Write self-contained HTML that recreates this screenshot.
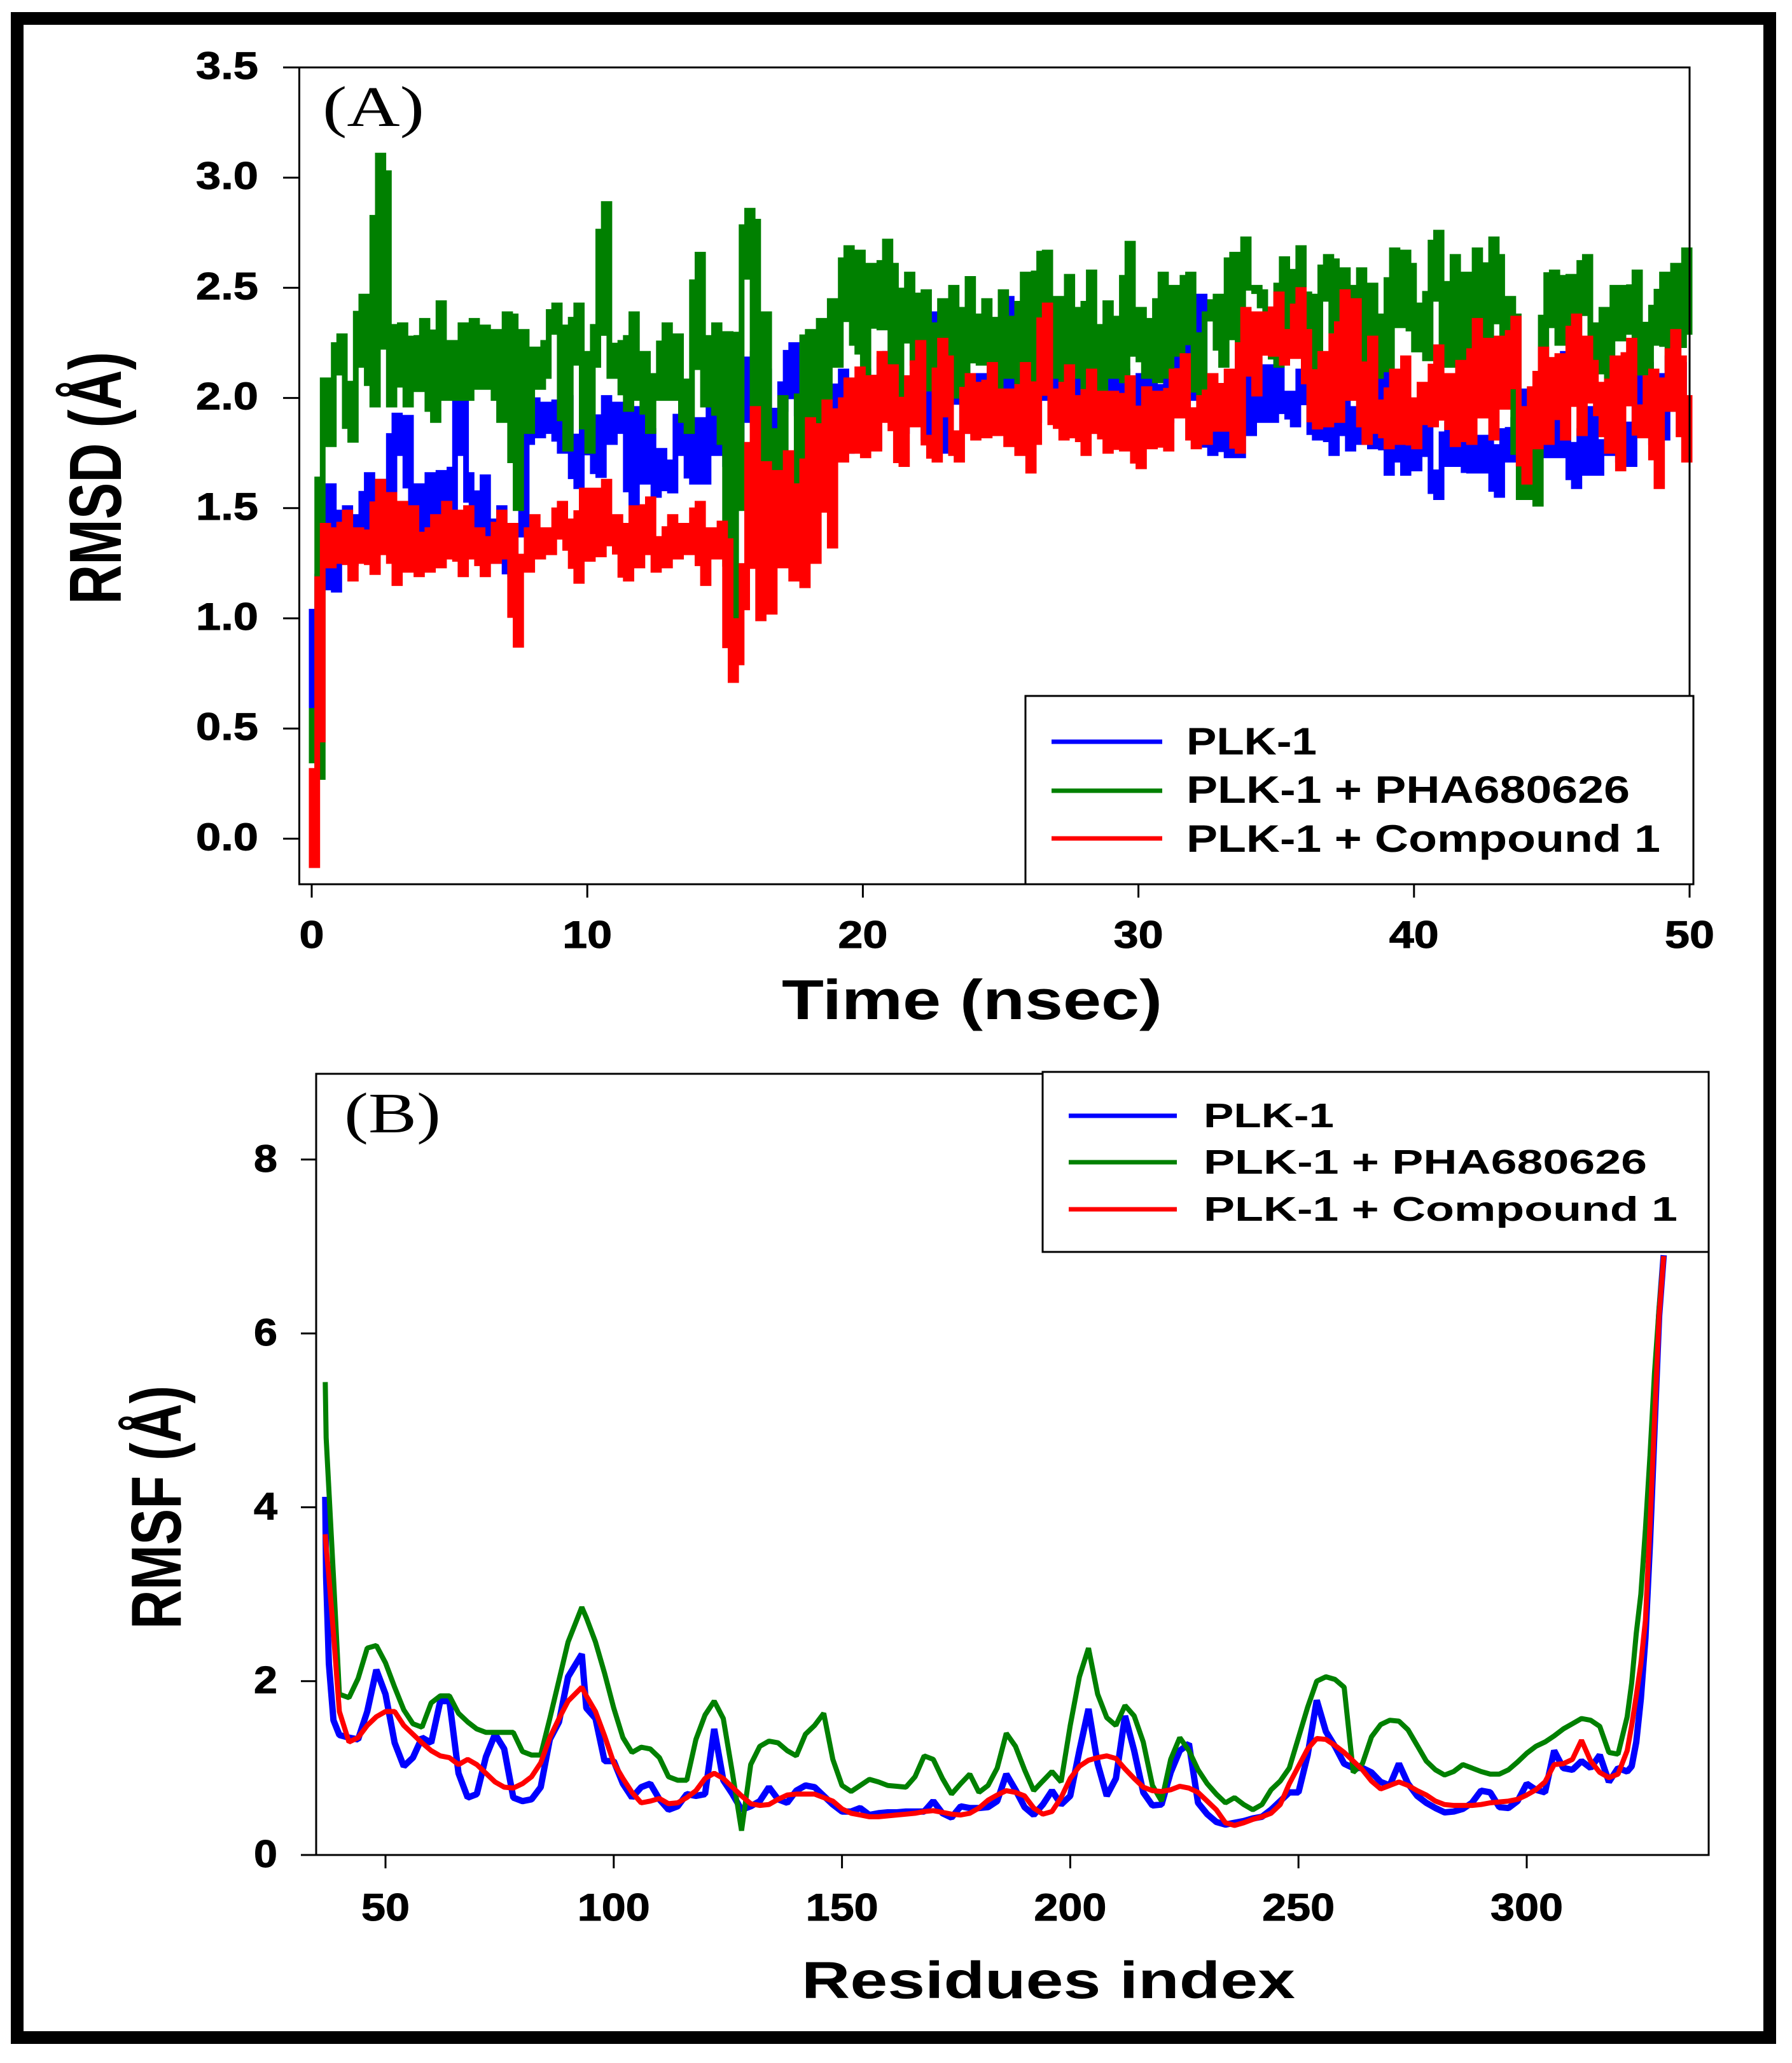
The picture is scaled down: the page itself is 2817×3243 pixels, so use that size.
<!DOCTYPE html>
<html lang="en">
<head>
<meta charset="utf-8">
<title>RMSD and RMSF of PLK-1 complexes</title>
<style>
html,body{margin:0;padding:0;background:#fff;}
svg{display:block;}
text{font-family:"Liberation Sans",Arial,sans-serif;fill:#000;}
.tick{font-weight:bold;stroke:#000;stroke-width:1;}
.leg{font-weight:bold;}
.series{fill:none;stroke-linejoin:bevel;stroke-linecap:butt;}
.band{fill:none;stroke-linecap:square;}
</style>
</head>
<body>
<svg id="chart" xmlns="http://www.w3.org/2000/svg" width="2817" height="3243" viewBox="0 0 2817 3243">
  <rect x="0" y="0" width="2817" height="3243" fill="#fff"/>
  <rect x="27" y="29" width="2755" height="3174" fill="none" stroke="#000" stroke-width="20"/>

  <g id="panelA">
    <g id="ticksA"></g>
    <path id="lineA0" class="band" stroke="#0000ff" stroke-width="9"/>
    <path id="lineA1" class="band" stroke="#008000" stroke-width="9"/>
    <path id="lineA2" class="band" stroke="#ff0000" stroke-width="9"/>
    <path d="M445 106H2656V1390H470.5V106" fill="none" stroke="#000" stroke-width="3"/>
    <text x="507" y="198" font-size="90" textLength="160" lengthAdjust="spacingAndGlyphs" style="font-family:'Liberation Serif',serif">(A)</text>
    <text transform="translate(190 950) rotate(-90)" font-size="116" font-weight="bold" textLength="397" lengthAdjust="spacingAndGlyphs">RMSD (Å)</text>
    <text x="1229" y="1602" font-size="88" font-weight="bold" textLength="598" lengthAdjust="spacingAndGlyphs">Time (nsec)</text>
    <g>
      <rect x="1612" y="1094" width="1050" height="296" fill="#fff" stroke="#000" stroke-width="3"/>
      <line x1="1653" x2="1827" y1="1166" y2="1166" stroke="#0000ff" stroke-width="7"/>
      <text class="leg" x="1865" y="1186" font-size="60" textLength="205" lengthAdjust="spacingAndGlyphs">PLK-1</text>
      <line x1="1653" x2="1827" y1="1243" y2="1243" stroke="#008000" stroke-width="7"/>
      <text class="leg" x="1865" y="1262" font-size="60" textLength="697" lengthAdjust="spacingAndGlyphs">PLK-1 + PHA680626</text>
      <line x1="1653" x2="1827" y1="1318" y2="1318" stroke="#ff0000" stroke-width="7"/>
      <text class="leg" x="1865" y="1339" font-size="60" textLength="745" lengthAdjust="spacingAndGlyphs">PLK-1 + Compound 1</text>
    </g>
  </g>

  <g id="panelB">
    <g id="ticksB"></g>
    <path id="lineB0" class="series" stroke="#0000ff" stroke-width="10"/>
    <path id="lineB1" class="series" stroke="#008000" stroke-width="8"/>
    <path id="lineB2" class="series" stroke="#ff0000" stroke-width="8"/>
    <path d="M473 2916H2686V1688H497V2916" fill="none" stroke="#000" stroke-width="3"/>
    <text x="541" y="1780" font-size="90" textLength="152" lengthAdjust="spacingAndGlyphs" style="font-family:'Liberation Serif',serif">(B)</text>
    <text transform="translate(284 2561) rotate(-90)" font-size="111" font-weight="bold" textLength="383" lengthAdjust="spacingAndGlyphs">RMSF (Å)</text>
    <text x="1260" y="3141" font-size="82" font-weight="bold" textLength="776" lengthAdjust="spacingAndGlyphs">Residues index</text>
    <g>
      <rect x="1639" y="1685" width="1047" height="283" fill="#fff" stroke="#000" stroke-width="3"/>
      <line x1="1680" x2="1850" y1="1754" y2="1754" stroke="#0000ff" stroke-width="7"/>
      <text class="leg" x="1892" y="1772" font-size="54" textLength="205" lengthAdjust="spacingAndGlyphs">PLK-1</text>
      <line x1="1680" x2="1850" y1="1827" y2="1827" stroke="#008000" stroke-width="7"/>
      <text class="leg" x="1892" y="1845" font-size="54" textLength="697" lengthAdjust="spacingAndGlyphs">PLK-1 + PHA680626</text>
      <line x1="1680" x2="1850" y1="1901" y2="1901" stroke="#ff0000" stroke-width="7"/>
      <text class="leg" x="1892" y="1919" font-size="54" textLength="745" lengthAdjust="spacingAndGlyphs">PLK-1 + Compound 1</text>
    </g>
  </g>
</svg>

<script>
// Panel A data: RMSD in angstrom, one row per nanosecond, sampled every 0.2 ns
const sampleStepNs = 0.2;
const rmsdPlk = [
0.55,1.19,1.14,1.60,1.13,
1.42,1.50,1.25,1.46,1.31,
1.65,1.34,1.62,1.33,1.55,
1.92,1.75,1.91,1.50,1.60,
1.25,1.65,1.40,1.66,1.50,
1.45,1.75,2.22,1.65,1.50,
1.35,1.64,1.32,1.26,1.50,
1.25,1.20,1.38,1.40,1.80,
1.99,1.83,1.97,1.85,1.98,
1.76,2.00,1.78,1.60,1.90,
1.85,1.72,1.65,2.00,1.80,
1.97,1.85,1.96,1.46,1.95,
1.62,1.85,1.56,1.76,1.62,
1.58,1.75,1.97,1.73,1.62,
1.90,1.62,1.95,1.75,2.00,
1.70,1.92,1.72,1.90,2.10,
2.20,1.85,2.12,1.85,1.92,
1.95,2.10,2.24,1.93,2.22,
1.98,1.86,2.10,1.96,2.05,
1.85,2.12,1.76,1.96,1.92,
2.12,1.90,1.78,2.10,2.20,
1.90,2.20,1.85,2.02,1.96,
2.12,1.82,2.38,1.86,1.76,
1.95,2.10,2.38,1.85,2.10,
1.85,2.10,1.90,2.12,1.98,
2.30,2.45,1.90,2.25,1.85,
2.20,1.90,2.10,2.00,2.25,
1.90,2.20,1.92,2.05,2.15,
1.95,2.10,1.85,2.10,1.90,
2.20,1.86,2.12,1.90,2.02,
2.10,1.88,2.16,1.82,2.05,
1.90,2.20,1.95,2.30,2.00,
2.20,2.46,1.90,1.75,2.05,
1.85,1.74,2.10,1.74,2.30,
1.84,2.00,1.90,2.14,1.90,
2.17,1.94,2.02,1.88,2.00,
2.16,1.92,1.82,2.17,2.00,
1.75,1.95,2.05,1.77,1.95,
1.80,1.92,1.78,1.86,2.12,
1.66,1.75,1.90,1.66,1.80,
1.68,1.85,2.00,1.66,1.55,
1.70,1.88,1.70,1.85,1.68,
1.67,1.82,1.67,1.82,1.67,
1.56,1.85,1.72,1.90,1.75,
2.03,1.85,1.75,1.88,1.74,
1.90,1.74,2.20,1.76,1.60,
1.85,1.66,1.95,1.66,1.80,
1.75,1.90,1.72,1.88,1.70,
1.90,2.05,2.15,1.80,2.10,
1.82,2.18,1.95,2.15,1.90,
1.88];
const rmsdPha = [
0.58,0.28,2.08,1.79,2.12,
2.28,2.06,1.81,2.15,2.46,
2.36,1.97,3.10,3.02,1.97,
2.30,2.33,1.97,2.27,2.04,
2.35,2.10,1.90,2.43,2.00,
2.25,2.00,2.33,2.00,2.35,
2.05,2.32,2.05,2.30,1.90,
2.38,2.37,1.50,2.30,1.85,
2.22,2.05,2.10,2.30,2.42,
2.32,1.77,2.16,2.42,2.20,
1.76,2.15,2.38,2.88,2.10,
2.20,2.25,1.95,2.38,2.00,
2.20,1.85,2.10,2.00,2.33,
2.00,2.28,2.05,1.85,2.15,
2.65,1.97,2.10,2.33,1.80,
2.29,0.90,1.50,2.55,2.85,
2.80,1.70,2.38,1.70,1.40,
2.00,1.55,1.72,1.43,2.20,
2.30,1.64,2.35,1.88,2.44,
2.15,2.46,2.68,2.25,2.66,
2.06,2.60,2.35,2.32,2.71,
2.60,2.00,2.27,2.56,2.16,
2.42,2.48,2.17,2.00,2.44,
2.15,2.50,2.10,1.98,2.54,
2.20,2.16,2.44,2.15,1.98,
2.48,2.10,2.36,2.03,2.56,
2.08,2.34,2.64,2.66,2.10,
2.45,2.08,2.55,2.10,2.40,
2.00,2.57,2.20,2.00,2.43,
2.10,2.36,2.08,2.70,2.20,
2.40,2.10,2.35,2.08,2.56,
2.10,2.50,2.20,2.50,2.56,
2.15,2.00,2.38,2.36,2.46,
2.15,2.55,2.65,2.15,2.72,
2.50,2.50,2.48,2.40,2.30,
2.15,2.63,2.40,2.25,2.68,
2.47,2.46,2.12,2.45,2.64,
2.62,2.20,2.58,2.50,2.15,
2.58,2.16,2.51,2.10,2.37,
2.13,2.67,2.33,2.66,2.60,
2.22,2.42,2.18,2.57,2.75,
2.35,2.15,2.64,2.12,2.56,
2.12,2.67,2.45,2.25,2.72,
2.64,2.25,2.45,2.37,1.55,
1.55,1.75,1.52,1.90,2.52,
2.57,2.25,2.53,2.55,2.25,
2.53,2.64,2.30,2.12,2.40,
2.10,2.50,2.27,2.50,2.30,
2.57,2.16,2.10,2.41,2.25,
2.56,2.14,2.60,2.24,2.67,
2.30];
const rmsdCompound = [
-0.12,0.45,1.42,1.24,1.40,
1.26,1.48,1.18,1.40,1.26,
1.39,1.21,1.62,1.30,1.56,
1.16,1.52,1.22,1.50,1.20,
1.38,1.22,1.46,1.24,1.52,
1.28,1.48,1.20,1.50,1.28,
1.40,1.20,1.36,1.26,1.48,
1.28,1.42,0.88,1.28,1.22,
1.46,1.28,1.40,1.30,1.40,
1.52,1.32,1.44,1.17,1.58,
1.27,1.58,1.29,1.62,1.34,
1.46,1.25,1.18,1.50,1.24,
1.40,1.54,1.22,1.36,1.24,
1.46,1.28,1.42,1.30,1.40,
1.52,1.16,1.40,1.28,1.43,
1.35,0.72,0.80,1.05,1.30,
1.95,1.00,1.70,1.03,1.66,
1.24,1.75,1.18,1.60,1.15,
1.90,1.26,1.55,1.98,1.33,
1.94,1.72,2.08,1.76,2.13,
1.74,2.09,1.77,2.20,1.90,
2.14,1.77,1.70,2.09,1.88,
2.25,1.82,1.79,1.72,2.26,
2.18,1.84,1.72,1.85,2.10,
1.82,2.06,1.83,2.15,1.84,
2.03,1.79,2.03,1.75,2.15,
1.67,1.80,2.15,2.42,1.89,
2.03,1.82,2.14,1.83,2.00,
1.75,2.12,1.85,2.02,1.76,
2.02,1.80,1.77,2.09,1.79,
1.69,2.04,1.78,2.02,1.84,
1.77,2.12,1.92,2.19,1.94,
1.78,2.00,1.80,2.10,1.86,
1.86,2.12,1.85,1.76,2.40,
2.38,2.02,2.38,2.22,2.20,
2.47,2.16,2.30,2.19,2.49,
2.30,2.00,1.87,2.20,1.88,
2.28,1.90,2.48,2.00,2.44,
2.12,1.80,2.27,1.85,1.98,
1.78,2.12,1.80,2.18,1.85,
1.78,2.06,1.92,1.88,2.23,
1.91,2.10,1.79,2.16,1.85,
1.80,2.35,1.92,2.26,1.82,
2.27,1.96,2.10,2.36,1.95,
1.62,2.04,1.78,2.22,1.80,
2.12,2.19,1.82,2.15,2.37,
1.84,2.27,2.16,1.93,2.06,
1.76,2.18,1.68,2.00,2.26,
1.88,1.83,2.00,2.12,1.60,
2.08,1.95,2.30,2.18,1.72,
2.00];
const timeTicks = [0,10,20,30,40,50];
const rmsdTicks = ["0.0","0.5","1.0","1.5","2.0","2.5","3.0","3.5"];

// Panel B data: RMSF in angstrom per residue
const residueIndex = [
36.8,37,37.6,38.6,39.9,
42,44,46,48,50,52,54,56,58,60,
62,64,66,68,70,72,74,76,78,80,
82,84,86,88,90,93,94,96,98,100,
102,104,106,108,110,112,114,116,118,120,
122,124,126,128,130,132,134,136,138,140,
142,
144,146,148,150,152,154,156,158,160,162,
164,166,168,170,172,174,176,178,180,182,
184,186,188,190,192,194,196,198,200,202,
204,206,208,210,212,214,216,218,220,222,
224,226,228,230,232,234,236,238,240,242,
244,246,248,250,252,254,256,258,260,262,
264,266,268,270,272,274,276,278,280,282,
284,286,288,290,292,294,296,298,300,302,
304,306,308,310,312,314,316,318,320,322,
323,324,325,326,327,328,329,330];
const rmsfPlk = [
4.12,3.20,2.20,1.55,1.38,
1.35,1.33,1.65,2.13,1.85,1.29,1.02,1.12,1.35,1.29,
1.77,1.77,.94,.66,.70,1.13,1.39,1.22,.66,.62,
.64,.78,1.33,1.53,2.05,2.31,1.69,1.57,1.08,1.08,
.82,.66,.78,.82,.64,.52,.56,.70,.68,.70,
1.45,.86,.70,.52,.56,.62,.78,.64,.60,.74,
.80,
.78,.68,.58,.50,.50,.54,.46,.48,.49,.49,
.50,.50,.50,.62,.48,.43,.56,.54,.54,.55,
.62,.93,.75,.55,.46,.58,.74,.58,.68,1.20,
1.68,1.05,.68,.88,1.60,1.20,.72,.57,.58,.95,
1.20,1.28,.60,.47,.38,.35,.37,.39,.42,.44,
.52,.62,.72,.72,1.15,1.78,1.42,1.25,1.05,1.00,
1.00,.95,.84,.80,1.05,.82,.68,.60,.54,.49,
.50,.53,.60,.74,.72,.55,.54,.62,.82,.75,
.72,1.20,1.00,.98,1.08,1.00,1.15,.84,1.00,.96,
1.02,1.30,1.80,2.50,3.60,4.90,6.20,6.90];
const rmsfPha = [
5.44,4.80,4.20,3.20,1.85,
1.81,2.03,2.38,2.41,2.21,1.93,1.67,1.51,1.47,1.75,
1.83,1.83,1.63,1.53,1.45,1.41,1.41,1.41,1.41,1.19,
1.15,1.15,1.57,2.01,2.45,2.85,2.73,2.45,2.09,1.69,
1.35,1.18,1.24,1.22,1.12,.90,.86,.86,1.33,1.61,
1.77,1.57,.94,.28,1.04,1.25,1.31,1.29,1.20,1.14,
1.39,
1.49,1.63,1.10,.80,.73,.80,.87,.84,.80,.79,
.78,.90,1.14,1.10,.88,.70,.82,.93,.72,.80,
1.00,1.40,1.25,.98,.74,.85,.96,.84,1.49,2.05,
2.38,1.85,1.58,1.49,1.72,1.60,1.30,.80,.62,1.10,
1.35,1.20,.98,.82,.70,.60,.66,.58,.52,.58,
.75,.85,1.00,1.35,1.70,2.00,2.05,2.02,1.93,.95,
1.05,1.36,1.50,1.55,1.54,1.44,1.26,1.08,.98,.92,
.96,1.04,1.00,.96,.93,.93,.98,1.07,1.17,1.25,
1.30,1.37,1.45,1.51,1.57,1.55,1.48,1.18,1.16,1.59,
1.98,2.55,3.00,3.75,4.60,5.55,6.29,6.89];
const rmsfCompound = [
3.69,3.55,3.20,2.55,1.65,
1.30,1.35,1.49,1.59,1.65,1.65,1.49,1.39,1.29,1.20,
1.14,1.12,1.04,1.10,1.04,.94,.84,.78,.77,.82,
.90,1.06,1.35,1.57,1.77,1.93,1.83,1.65,1.37,1.06,
.88,.72,.60,.62,.65,.59,.60,.66,.74,.88,
.94,.88,.78,.68,.59,.57,.58,.64,.69,.70,
.70,
.70,.66,.62,.53,.48,.46,.44,.44,.45,.46,
.47,.48,.50,.51,.49,.47,.46,.48,.54,.63,
.69,.74,.72,.68,.54,.47,.50,.66,.88,1.02,
1.09,1.12,1.14,1.11,.99,.88,.78,.74,.73,.75,
.79,.77,.72,.62,.52,.37,.34,.37,.41,.44,
.48,.58,.82,1.02,1.22,1.34,1.33,1.26,1.18,1.08,
.98,.85,.76,.80,.84,.80,.74,.69,.62,.58,
.57,.57,.57,.58,.60,.61,.62,.64,.69,.75,
.84,1.04,1.05,1.10,1.32,1.08,.95,.89,.93,1.20,
1.49,1.83,2.20,2.70,3.80,5.00,6.20,6.89];
const residueTicks = [50,100,150,200,250,300];
const rmsfTicks = ["0","2","4","6","8"];

// Axis functions
function xTime(t){ return 490 + 43.32 * t; }
function yRmsd(v){ return 106 + (3.5 - v) * 346.4; }
function xResidue(r){ return 606 + 7.176 * (r - 50); }
function yRmsf(v){ return 2916 - 136.65 * v; }

const SVGNS = "http://www.w3.org/2000/svg";

function linePath(xs, ys, fx, fy){
  let d = "";
  for (let i = 0; i < ys.length; i++) {
    d += (i ? "L" : "M") + fx(xs[i]).toFixed(1) + " " + fy(ys[i]).toFixed(1);
  }
  return d;
}

// Dense traces read as solid bands: each sample is a vertical column spanning
// from the previous value to this value, and most of the way toward the next.
function columnPath(xs, ys, fx, fy){
  let d = "";
  for (let i = 0; i < ys.length; i++) {
    const prev = i > 0 ? ys[i - 1] : ys[i];
    const next = i < ys.length - 1 ? ys[i] + 0.75 * (ys[i + 1] - ys[i]) : ys[i];
    const lo = Math.min(prev, ys[i], next);
    const hi = Math.max(prev, ys[i], next);
    d += "M" + fx(xs[i]).toFixed(1) + " " + fy(hi).toFixed(1) + "V" + fy(lo).toFixed(1);
  }
  return d;
}

function makeTick(parent, x1, y1, x2, y2){
  const el = document.createElementNS(SVGNS, "line");
  el.setAttribute("x1", x1);
  el.setAttribute("y1", y1);
  el.setAttribute("x2", x2);
  el.setAttribute("y2", y2);
  el.setAttribute("stroke", "#000");
  el.setAttribute("stroke-width", "3");
  
  
  parent.appendChild(el);
}

function makeLabel(parent, str, x, y, size, anchor, width){
  const el = document.createElementNS(SVGNS, "text");
  el.setAttribute("class", "tick");
  el.setAttribute("x", x);
  el.setAttribute("y", y);
  el.setAttribute("font-size", size);
  el.setAttribute("text-anchor", anchor);
  el.setAttribute("textLength", width);
  el.setAttribute("lengthAdjust", "spacingAndGlyphs");
  
  
  el.textContent = str;
  parent.appendChild(el);
}

// Panel A
const timeNs = rmsdPlk.map(function(_, i){ return i * sampleStepNs; });
document.getElementById("lineA0").setAttribute("d", columnPath(timeNs, rmsdPlk, xTime, yRmsd));
document.getElementById("lineA1").setAttribute("d", columnPath(timeNs, rmsdPha, xTime, yRmsd));
document.getElementById("lineA2").setAttribute("d", columnPath(timeNs, rmsdCompound, xTime, yRmsd));

const ticksA = document.getElementById("ticksA");
timeTicks.forEach(function(t){
  makeTick(ticksA, xTime(t), 1390, xTime(t), 1411);
  makeLabel(ticksA, String(t), xTime(t), 1490, 60, "middle", String(t).length * 39);
});
rmsdTicks.forEach(function(s){
  const v = parseFloat(s);
  makeTick(ticksA, 445, yRmsd(v), 470, yRmsd(v));
  makeLabel(ticksA, s, 406, yRmsd(v) + 18, 60, "end", 98);
});

// Panel B
document.getElementById("lineB0").setAttribute("d", linePath(residueIndex, rmsfPlk, xResidue, yRmsf));
document.getElementById("lineB1").setAttribute("d", linePath(residueIndex, rmsfPha, xResidue, yRmsf));
document.getElementById("lineB2").setAttribute("d", linePath(residueIndex, rmsfCompound, xResidue, yRmsf));

const ticksB = document.getElementById("ticksB");
residueTicks.forEach(function(r){
  makeTick(ticksB, xResidue(r), 2916, xResidue(r), 2937);
  makeLabel(ticksB, String(r), xResidue(r), 3019, 60, "middle", String(r).length * 38);
});
rmsfTicks.forEach(function(s){
  const v = parseFloat(s);
  makeTick(ticksB, 473, yRmsf(v), 497, yRmsf(v));
  makeLabel(ticksB, s, 436, yRmsf(v) + 19, 60, "end", 37);
});
</script>
</body>
</html>
